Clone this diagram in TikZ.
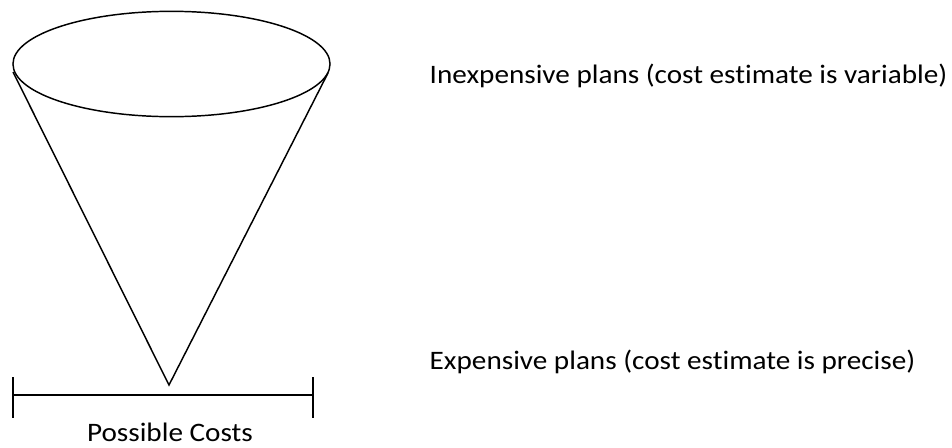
\documentclass[tikz,border=0pt]{standalone}
\usepackage{fontspec}
\setmainfont{Carlito}[FakeStretch=1.095,Ligatures=NoCommon]
\usetikzlibrary{shapes.geometric}
\begin{document}
\begin{tikzpicture}[x=0.75pt,y=-0.75pt,line width=1.1pt,every node/.style={font=\fontsize{20}{24}\selectfont,inner sep=0pt}]
\useasboundingbox (0,0) rectangle (952,447);
% cone
\node[draw,ellipse,minimum width=237.8pt,minimum height=79pt] (rim) at (171.5,64) {};
\coordinate (rimL) at (13,72);
\coordinate (rimR) at (328,73);
\coordinate (apex) at (169,385);
\draw (rimL) -- (apex) -- (rimR);
% cost range
\coordinate (barL) at (13,395);
\coordinate (barR) at (313,395);
\draw (barL) -- (barR);
\draw ([yshift=13.5pt]barL) -- ([yshift=-17pt]barL);
\draw ([yshift=13.5pt]barR) -- ([yshift=-17pt]barR);
\node[anchor=base] (costs) at (170,441) {Possible Costs};
% labels
\node[anchor=base west] (cheap) at (429,83) {Inexpensive plans (cost estimate is variable)};
\node[anchor=base west] (dear) at (429,369) {Expensive plans (cost estimate is precise)};
\end{tikzpicture}
\end{document}
